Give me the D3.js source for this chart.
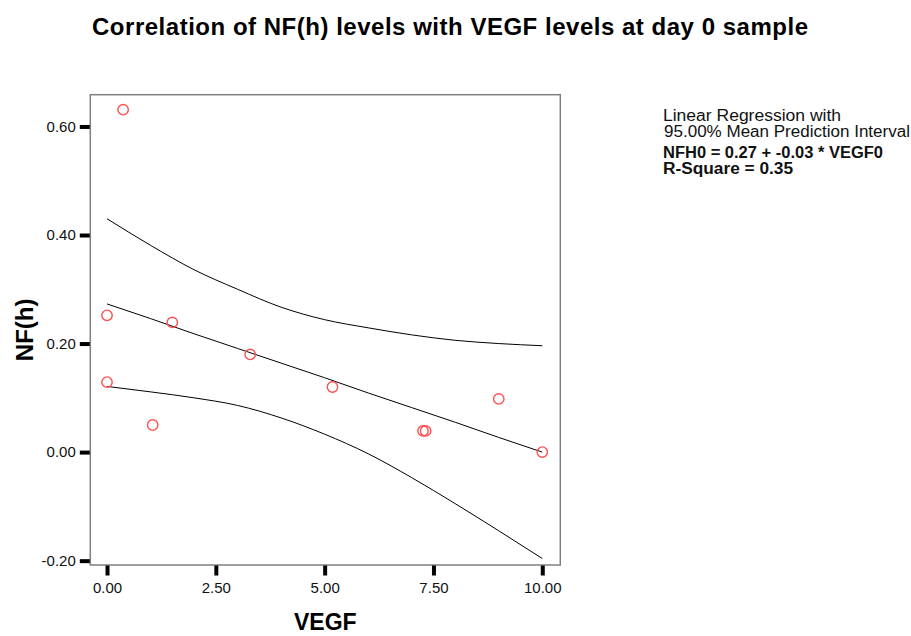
<!DOCTYPE html>
<html>
<head>
<meta charset="utf-8">
<script src="https://cdn.jsdelivr.net/npm/d3@7"></script>
<style>
  html, body { margin: 0; padding: 0; background: #fff; }
  svg { display: block; font-family: "Liberation Sans", Arial, sans-serif; }
</style>
</head>
<body>
<svg id="chart" width="911" height="636"></svg>
<script>
// ---- data ----
const vegf = [0.37, 0.00, 1.50, 3.29, 0.00, 1.05, 5.18, 7.26, 7.32, 9.00, 10.00];
const nfh  = [0.631, 0.252, 0.239, 0.180, 0.129, 0.050, 0.120, 0.039, 0.039, 0.098, 0.000];

const curveX   = [0, 1, 2, 3, 4, 5, 6, 7, 8, 9, 10];
const fitY     = [0.273, 0.246, 0.218, 0.191, 0.164, 0.137, 0.109, 0.082, 0.055, 0.027, 0.000];
const upperY   = [0.430, 0.381, 0.336, 0.300, 0.267, 0.244, 0.229, 0.216, 0.206, 0.200, 0.196];
const lowerY   = [0.121, 0.111, 0.100, 0.086, 0.063, 0.033, -0.003, -0.047, -0.095, -0.145, -0.196];

const xTicks = [0, 2.5, 5, 7.5, 10];
const yTicks = [-0.2, 0, 0.2, 0.4, 0.6];

const titleText = "Correlation of NF(h) levels with VEGF levels at day 0 sample";
const xLabel = "VEGF";
const yLabel = "NF(h)";
const legendLines = ["Linear Regression with", "95.00% Mean Prediction Interval"];
const legendBold = ["NFH0 = 0.27 + -0.03 * VEGF0", "R-Square = 0.35"];

// ---- layout ----
const svg = d3.select("#chart");
const frame = { left: 90.3, top: 94.7, right: 560.3, bottom: 565 };

const x = d3.scaleLinear().domain([-0.384, 10.414]).range([frame.left, frame.right]);
const y = d3.scaleLinear().domain([-0.208, 0.6585]).range([frame.bottom, frame.top]);

// title
svg.append("text")
  .attr("x", 92).attr("y", 35)
  .attr("font-size", 24).attr("font-weight", "bold")
  .attr("textLength", 716).attr("lengthAdjust", "spacing")
  .attr("fill", "#000")
  .text(titleText);

// frame
svg.append("rect")
  .attr("x", frame.left).attr("y", frame.top)
  .attr("width", frame.right - frame.left).attr("height", frame.bottom - frame.top)
  .attr("fill", "none").attr("stroke", "#808080").attr("stroke-width", 1.5);

// axes
const f2 = d3.format(".2f");
const fmt = v => f2(v).replace("\u2212", "-");
const yAxis = d3.axisLeft(y).tickValues(yTicks).tickFormat(fmt).tickSize(10).tickPadding(4);
const xAxis = d3.axisBottom(x).tickValues(xTicks).tickFormat(fmt).tickSize(10).tickPadding(7);

const gy = svg.append("g").attr("transform", `translate(${frame.left - 0.5},0)`).call(yAxis);
const gx = svg.append("g").attr("transform", `translate(0,${frame.bottom + 0.5})`).call(xAxis);
[gx, gy].forEach(g => {
  g.select(".domain").remove();
  g.selectAll(".tick line").attr("stroke", "#000").attr("stroke-width", 4);
  g.selectAll(".tick text")
    .attr("font-size", 15)
    .attr("font-family", "Liberation Sans, Arial, sans-serif")
    .attr("fill", "#111");
});

// axis labels
svg.append("text")
  .attr("x", (frame.left + frame.right) / 2).attr("y", 630)
  .attr("text-anchor", "middle")
  .attr("font-size", 23).attr("font-weight", "bold")
  .text(xLabel);

svg.append("text")
  .attr("transform", `translate(33,${(frame.top + frame.bottom) / 2}) rotate(-90)`)
  .attr("text-anchor", "middle")
  .attr("font-size", 24).attr("font-weight", "bold")
  .text(yLabel);

// regression line and interval curves
const line = d3.line().curve(d3.curveMonotoneX);
[upperY, fitY, lowerY].forEach(series => {
  svg.append("path")
    .attr("d", line(curveX.map((v, i) => [x(v), y(series[i])])))
    .attr("fill", "none").attr("stroke", "#000").attr("stroke-width", 1);
});

// points
svg.append("g").selectAll("circle")
  .data(vegf.map((v, i) => ({ x: v, y: nfh[i] })))
  .join("circle")
  .attr("cx", d => x(d.x)).attr("cy", d => y(d.y))
  .attr("r", 5.2)
  .attr("fill", "none").attr("stroke", "#ff4f4f").attr("stroke-width", 1.4);

// legend
const lg = svg.append("g").attr("fill", "#111");
lg.append("text").attr("x", 663).attr("y", 120.5).attr("font-size", 16)
  .attr("textLength", 178).attr("lengthAdjust", "spacingAndGlyphs").text(legendLines[0]);
lg.append("text").attr("x", 664).attr("y", 136.5).attr("font-size", 16)
  .attr("textLength", 246).attr("lengthAdjust", "spacingAndGlyphs").text(legendLines[1]);
lg.append("text").attr("x", 663).attr("y", 157.5).attr("font-size", 16).attr("font-weight", "bold")
  .attr("textLength", 220).attr("lengthAdjust", "spacingAndGlyphs").text(legendBold[0]);
lg.append("text").attr("x", 663).attr("y", 173.5).attr("font-size", 16).attr("font-weight", "bold")
  .attr("textLength", 130).attr("lengthAdjust", "spacingAndGlyphs").text(legendBold[1]);
</script>
</body>
</html>
